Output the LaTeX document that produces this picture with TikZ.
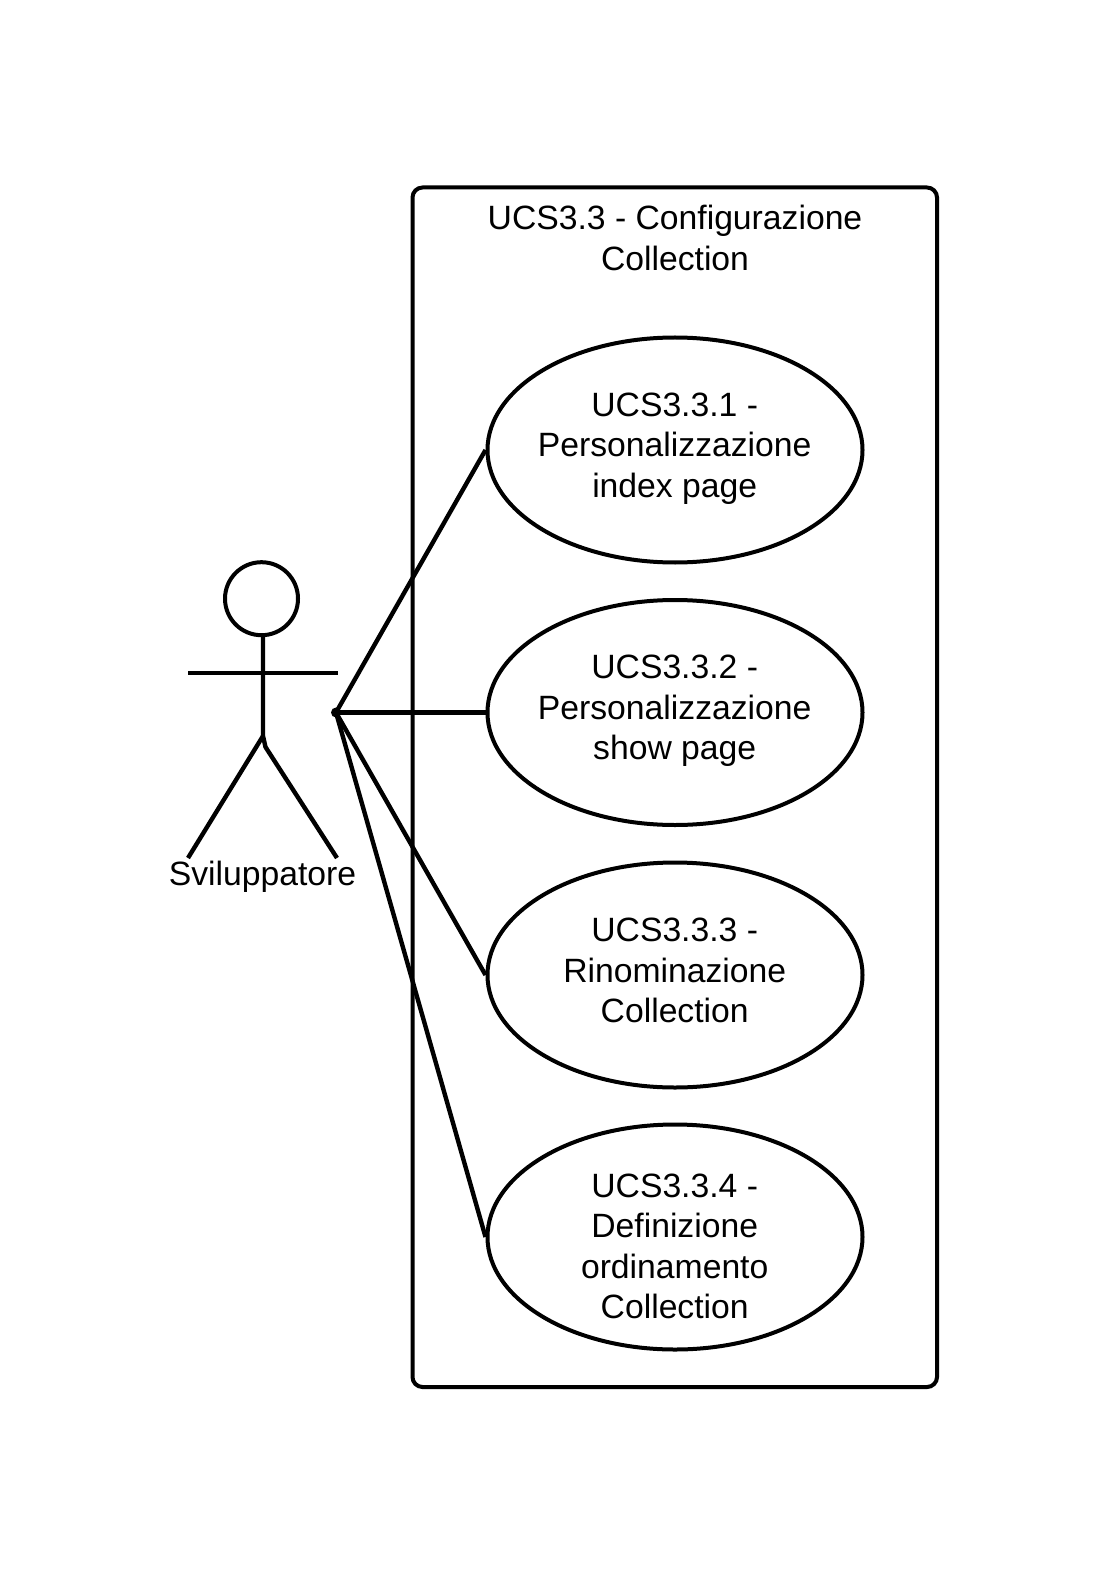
\documentclass[tikz,border=0pt]{standalone}
\usepackage{fontspec}
\setmainfont{Liberation Sans}
\usetikzlibrary{shapes.geometric}
\tikzset{
  usecase/.style={ellipse, draw, line width=2pt, minimum width=187.5pt, minimum height=112.5pt, inner sep=0pt},
  lbl/.style={align=center, inner sep=0pt, font=\fontsize{16.85}{20.15}\selectfont},
  link/.style={line width=2.2pt}
}
\begin{document}
\begin{tikzpicture}[x=0.5pt,y=-0.5pt]
\useasboundingbox (0,0) rectangle (1117,1588);
\draw[line width=2pt, rounded corners=5pt] (412.5,187.5) rectangle (937,1387);
\node[lbl] (title) at (675,238){UCS3.3 - Configurazione\\Collection};
\node[usecase] (uc1) at (675,450){};
\node[usecase] (uc2) at (675,712.5){};
\node[usecase] (uc3) at (675,975){};
\node[usecase] (uc4) at (675,1237){};
\node[lbl] (uc1txt) at (674.7,448.5){UCS3.3.1 -\\Personalizzazione\\index page};
\node[lbl] (uc2txt) at (674.7,711){UCS3.3.2 -\\Personalizzazione\\show page};
\node[lbl] (uc3txt) at (674.7,970.5){UCS3.3.3 -\\Rinominazione\\Collection};
\node[lbl] (uc4txt) at (674.7,1246.5){UCS3.3.4 -\\Definizione\\ordinamento\\Collection};
\node[circle, draw, line width=2pt, minimum size=36.5pt, inner sep=0pt] (head) at (261.5,598.7){};
\coordinate (hip) at (263,736);
\coordinate (hipb) at (265.5,747);
\coordinate (armL) at (188,673);
\coordinate (armR) at (337.7,673);
\coordinate (footL) at (188,858);
\coordinate (footR) at (337,858);
\node[circle, fill, minimum size=5pt, inner sep=0pt] (port) at (336,712.5){};
\draw[link] (head.south -| hip) -- (hip) -- (hipb) -- (footR);
\draw[link] (armL) -- (armR);
\draw[link] (footL) -- (hip);
\node[lbl] (actor) at (262.5,877){Sviluppatore};
\draw[link] (port.center) -- (uc1.west);
\draw[link] (port.center) -- (uc2.west);
\draw[link] (port.center) -- (uc3.west);
\draw[link] (port.center) -- (uc4.west);
\end{tikzpicture}
\end{document}
